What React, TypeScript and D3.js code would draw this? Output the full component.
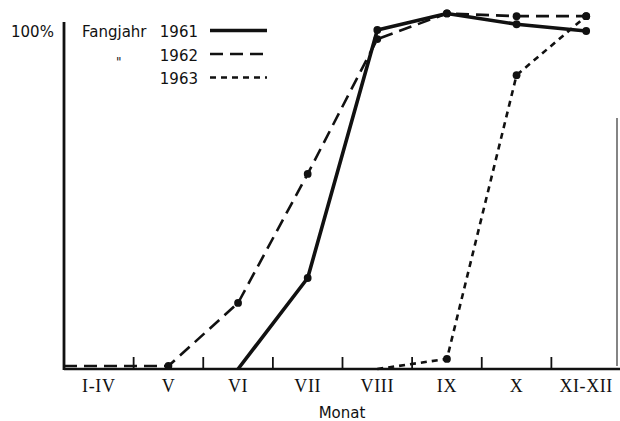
import * as d3 from 'd3';
import { type FC } from 'react';

const months = ['I-IV', 'V', 'VI', 'VII', 'VIII', 'IX', 'X', 'XI-XII'];

// percentages; null = no value
const catch1961 = [null, null, 0, 27, 100.6, 105.5, 102.3, 100.3];
const catch1962 = [0.9, 0.9, 19.6, 57.9, 97.9, 105.5, 104.7, 104.7];
const catch1963 = [null, null, null, null, 0, 3, 87.2, 104.7];

// which points carry a dot
const dots1961 = [false, false, false, true, true, true, true, true];
const dots1962 = [false, true, true, true, true, true, true, true];
const dots1963 = [false, false, false, false, false, true, true, true];

const legendYears = ['1961', '1962', '1963'];

const width = 620;
const height = 421;
const marginLeft = 64;
const marginRight = -1;
const baseY = 369;
const topY = 32;
const sans = 'DejaVu Sans';

type Series = {
  values: (number | null)[];
  dots: boolean[];
  dash: string;
  strokeWidth: number;
  fromAxis: boolean;
};

const series: Series[] = [
  { values: catch1961, dots: dots1961, dash: 'none', strokeWidth: 3.6, fromAxis: false },
  { values: catch1962, dots: dots1962, dash: '13,7', strokeWidth: 2.6, fromAxis: true },
  { values: catch1963, dots: dots1963, dash: '6,5', strokeWidth: 2.6, fromAxis: false },
];

const App: FC = () => {
  const x = d3.scaleBand<string>(months, [marginLeft, width - marginRight]);
  const bw = x.bandwidth();
  const cx = (m: string) => (x(m) ?? 0) + bw / 2;
  const y = d3.scaleLinear([0, 100], [baseY, topY]);

  const line = d3
    .line<[number, number]>()
    .x((d) => d[0])
    .y((d) => d[1]);

  const ticks = months.slice(1).map((m) => x(m) ?? 0);

  return (
    <svg
      width={width}
      height={height}
      viewBox={`0 0 ${width} ${height}`}
      style={{ position: 'absolute', left: 0, top: 0, background: '#fff' }}
    >
      {/* axes */}
      <line x1={marginLeft} x2={marginLeft} y1={22} y2={baseY + 1} stroke='#111' strokeWidth={2.8} />
      <line x1={marginLeft} x2={width} y1={baseY} y2={baseY} stroke='#111' strokeWidth={2.4} />
      {ticks.map((t, i) => (
        <line key={i} x1={t} x2={t} y1={baseY} y2={baseY - 12} stroke='#111' strokeWidth={1.8} />
      ))}
      {months.map((m) => (
        <text
          key={m}
          x={cx(m)}
          y={392}
          textAnchor='middle'
          fontFamily='Liberation Serif'
          fontSize={18}
          letterSpacing={0.6}
          fill='#111'
        >
          {m}
        </text>
      ))}
      <text x={342} y={418} textAnchor='middle' fontFamily={sans} fontSize={15} fill='#111'>
        Monat
      </text>
      <text x={11} y={37} fontFamily={sans} fontSize={15} fill='#111'>
        100%
      </text>
      {/* scan edge on the right */}
      <line x1={617} x2={617} y1={118} y2={366} stroke='#333' strokeWidth={1.2} />

      {/* series */}
      {series.map((s, si) => {
        const pts: [number, number][] = [];
        s.values.forEach((v, i) => {
          if (v === null) return;
          if (i === 0 && s.fromAxis) pts.push([marginLeft, y(v)]);
          pts.push([cx(months[i]), y(v)]);
        });
        return (
          <g key={si}>
            <path
              d={line(pts) ?? undefined}
              fill='none'
              stroke='#111'
              strokeWidth={s.strokeWidth}
              strokeDasharray={s.dash}
              strokeLinejoin='round'
            />
            {s.values.map((v, i) =>
              v !== null && s.dots[i] ? (
                <circle key={i} cx={cx(months[i])} cy={y(v)} r={3.9} fill='#111' />
              ) : null,
            )}
          </g>
        );
      })}

      {/* legend */}
      <g fontFamily={sans} fontSize={15} fill='#111'>
        <text x={82} y={37}>Fangjahr</text>
        <text x={116} y={66} fontSize={12} fontStyle='italic'>
          "
        </text>
        {legendYears.map((yr, i) => (
          <g key={yr} transform={`translate(0, ${i * 23.5})`}>
            <text x={198} y={37} textAnchor='end'>
              {yr}
            </text>
            <line
              x1={210}
              x2={267}
              y1={30.5}
              y2={30.5}
              stroke='#111'
              strokeWidth={series[i].strokeWidth}
              strokeDasharray={series[i].dash}
            />
          </g>
        ))}
      </g>
    </svg>
  );
};

export default App;
